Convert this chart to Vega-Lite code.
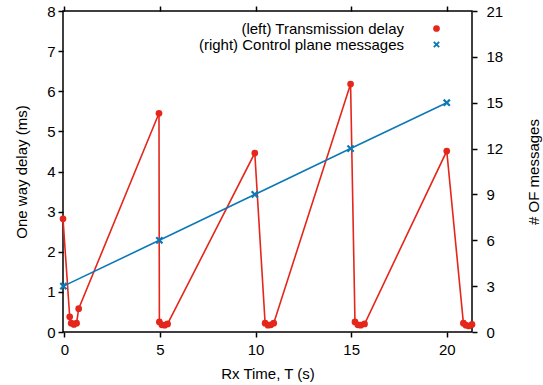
{
  "$schema": "https://vega.github.io/schema/vega-lite/v6.json",
  "width": 409,
  "height": 321,
  "autosize": "none",
  "padding": {"left": 63, "top": 11, "right": 71, "bottom": 53},
  "config": {
    "font": "Liberation Sans",
    "view": {"stroke": "black", "strokeWidth": 1.5},
    "axis": {
      "domain": false, "grid": false,
      "labelColor": "black", "titleColor": "black",
      "labelFontSize": 15, "titleFontSize": 15, "titleFontWeight": "normal",
      "labelFont": "Liberation Sans", "titleFont": "Liberation Sans"
    }
  },
  "datasets": {
    "delay": [
      {"t": -0.07, "d": 2.82},
      {"t": 0.28, "d": 0.38},
      {"t": 0.36, "d": 0.22},
      {"t": 0.5, "d": 0.19},
      {"t": 0.64, "d": 0.22},
      {"t": 0.75, "d": 0.58},
      {"t": 4.95, "d": 5.45},
      {"t": 4.97, "d": 0.25},
      {"t": 5.1, "d": 0.18},
      {"t": 5.25, "d": 0.17},
      {"t": 5.4, "d": 0.2},
      {"t": 9.96, "d": 4.46},
      {"t": 10.5, "d": 0.22},
      {"t": 10.65, "d": 0.17},
      {"t": 10.8, "d": 0.18},
      {"t": 10.95, "d": 0.22},
      {"t": 14.97, "d": 6.18},
      {"t": 15.2, "d": 0.25},
      {"t": 15.35, "d": 0.18},
      {"t": 15.5, "d": 0.17},
      {"t": 15.7, "d": 0.2},
      {"t": 20.0, "d": 4.51},
      {"t": 20.87, "d": 0.22},
      {"t": 21.0, "d": 0.17},
      {"t": 21.15, "d": 0.15},
      {"t": 21.32, "d": 0.19}
    ],
    "msgs": [
      {"t": -0.05, "m": 3},
      {"t": 4.97, "m": 6},
      {"t": 9.96, "m": 9},
      {"t": 14.97, "m": 12},
      {"t": 20.0, "m": 15}
    ]
  },
  "layer": [
    {
      "data": {"name": "delay"},
      "encoding": {
        "x": {"field": "t", "type": "quantitative",
              "scale": {"domain": [-0.07, 21.32], "nice": false, "zero": false},
              "axis": {"orient": "bottom", "values": [0, 5, 10, 15, 20], "title": "Rx Time, T (s)", "ticks": true, "tickSize": 5, "tickWidth": 1.5, "tickColor": "#000000", "labelPadding": 5, "titlePadding": 9}},
        "y": {"field": "d", "type": "quantitative",
              "scale": {"domain": [0, 8], "nice": false},
              "axis": {"orient": "left", "values": [0, 1, 2, 3, 4, 5, 6, 7, 8], "title": "One way delay (ms)", "ticks": true, "tickSize": 5, "tickWidth": 1.5, "tickColor": "#000000", "labelPadding": 3, "titlePadding": 17}}
      },
      "layer": [
        {"mark": {"type": "line", "color": "#e5261b", "strokeWidth": 1.6}},
        {"mark": {"type": "point", "filled": true, "opacity": 1, "size": 45},
         "encoding": {
           "color": {"datum": "(left) Transmission delay", "type": "nominal",
             "scale": {"domain": ["(left) Transmission delay", "(right) Control plane messages"], "range": ["#e5261b", "#0b78b7"]},
             "legend": {"title": null, "orient": "none", "legendX": 366, "legendY": 10, "labelAlign": "right", "labelOffset": -40, "labelLimit": 400, "labelFontSize": 15, "labelColor": "black", "padding": 0, "rowPadding": -3, "symbolSize": 45}},
           "shape": {"datum": "(left) Transmission delay", "type": "nominal",
             "scale": {"domain": ["(left) Transmission delay", "(right) Control plane messages"], "range": ["circle", "M-1,-0.6L-0.6,-1L0,-0.4L0.6,-1L1,-0.6L0.4,0L1,0.6L0.6,1L0,0.4L-0.6,1L-1,0.6L-0.4,0Z"]},
             "legend": {"title": null, "orient": "none", "legendX": 366, "legendY": 10, "labelAlign": "right", "labelOffset": -40, "labelLimit": 400, "labelFontSize": 15, "labelColor": "black", "padding": 0, "rowPadding": -3, "symbolSize": 45}}
         }}
      ]
    },
    {
      "data": {"name": "msgs"},
      "encoding": {
        "x": {"field": "t", "type": "quantitative",
              "scale": {"domain": [-0.07, 21.32], "nice": false, "zero": false},
              "axis": {"orient": "top", "values": [0, 5, 10, 15, 20], "labels": false, "title": null, "ticks": true, "tickSize": 5, "tickWidth": 1.5, "tickColor": "#000000"}},
        "y": {"field": "m", "type": "quantitative",
              "scale": {"domain": [0, 21], "nice": false},
              "axis": {"orient": "right", "values": [0, 3, 6, 9, 12, 15, 18, 21], "title": "# OF messages", "titleAngle": 270, "ticks": true, "tickSize": 5, "tickWidth": 1.5, "tickColor": "#000000", "labelPadding": 9, "titlePadding": 39}}
      },
      "layer": [
        {"mark": {"type": "line", "color": "#0b78b7", "strokeWidth": 1.6}},
        {"mark": {"type": "point", "filled": true, "opacity": 1, "size": 60},
         "encoding": {
           "color": {"datum": "(right) Control plane messages", "type": "nominal"},
           "shape": {"datum": "(right) Control plane messages", "type": "nominal"}
         }}
      ]
    }
  ],
  "resolve": {"scale": {"y": "independent"}, "axis": {"x": "independent", "y": "independent"}}
}
